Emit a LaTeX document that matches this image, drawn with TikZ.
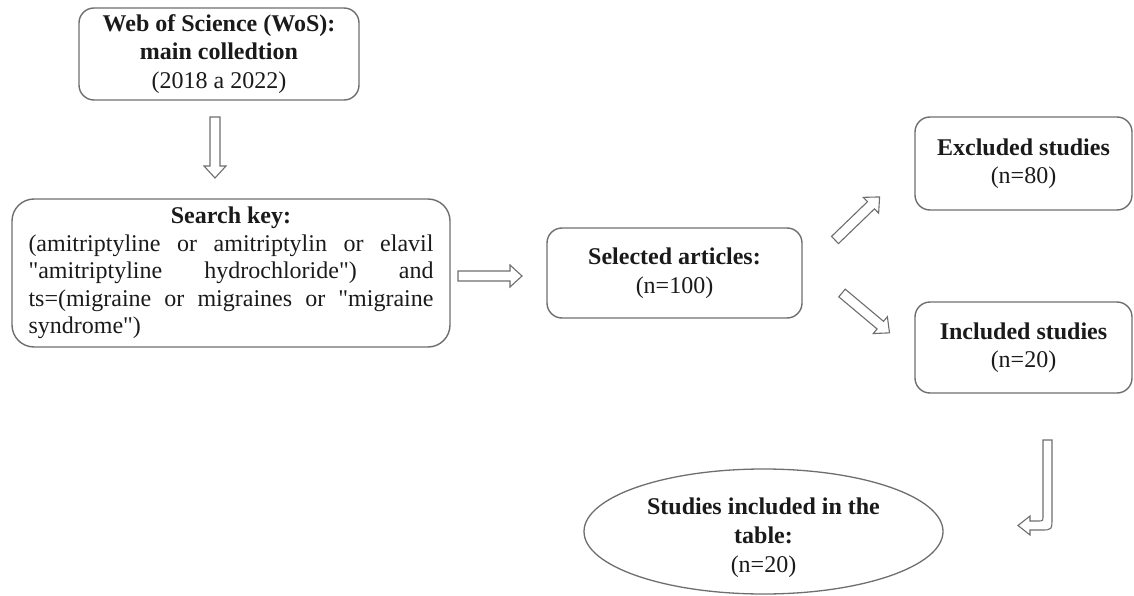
\documentclass[tikz,border=0pt]{standalone}
\usepackage{fontspec}
\setmainfont{Liberation Serif}[Ligatures=TeXOff]
\usetikzlibrary{shapes.geometric}
\definecolor{edge}{HTML}{6E6E6E}
\definecolor{ink}{HTML}{1A1A1A}
\tikzset{
  box/.style={draw=edge, line width=1.4pt, rounded corners=15pt, inner sep=0pt,
    align=center, text=ink, font=\fontsize{24}{28.5}\selectfont},
  oval/.style={draw=edge, line width=1.3pt, ellipse, inner sep=0pt,
    align=center, text=ink, font=\fontsize{24}{29}\selectfont},
  arrowline/.style={draw=edge, line width=1.1pt, line join=miter, fill=white},
  pics/barrow/.style={code={
    \draw[arrowline] (0,-5) -- ({#1-12},-5) -- ({#1-12},-11) -- (#1,0)
      -- ({#1-12},11) -- ({#1-12},5) -- (0,5) -- cycle;}}
}
\begin{document}
\begin{tikzpicture}[x=1pt,y=-1pt]
\useasboundingbox (0,0) rectangle (1134,596);

\node[box, minimum width=280, minimum height=92] (wos) at (219,54)
  {\textbf{Web of Science (WoS):}\\ \textbf{main colledtion}\\ (2018 a 2022)};

\node[box, rounded corners=22pt, minimum width=438, minimum height=148,
      font=\fontsize{24}{27.5}\selectfont] (search) at (231,273)
  {\textbf{Search key:}\\
   \makebox[405pt][s]{(amitriptyline or amitriptylin or elavil}\\
   \makebox[405pt][s]{"amitriptyline hydrochloride") and}\\
   \makebox[405pt][s]{ts=(migraine or migraines or "migraine}\\
   \makebox[405pt][l]{syndrome")}};

\node[box, minimum width=255, minimum height=90] (sel) at (674.5,273)
  {\textbf{Selected articles:}\\ (n=100)};

\node[box, minimum width=217, minimum height=93] (exc) at (1023.5,163.5)
  {\textbf{Excluded studies}\\ (n=80)};

\node[box, minimum width=217, minimum height=91] (inc) at (1023.5,347.5)
  {\textbf{Included studies}\\ (n=20)};

\node[oval, minimum width=359, minimum height=125] (tab) at (763.5,531.5)
  {\raisebox{-6pt}[\height][\depth]{\begin{tabular}{@{}c@{}}
   \textbf{Studies included in the}\\ \textbf{table:}\\ (n=20)\end{tabular}}};

% block arrows
\coordinate (a1) at (215,117);
\coordinate (a2) at (458,276);
\coordinate (a3) at (835,240);
\coordinate (a4) at (842,293);
\pic[rotate=-90] at (a1) {barrow=61};
\pic at (a2) {barrow=64};
\pic[rotate=44] at (a3) {barrow=62};
\pic[rotate=-40] at (a4) {barrow=62};

% hook arrow
\coordinate (h0) at (1043,440);
\draw[arrowline] (h0) -- (1052,440) -- (1052,517)
  .. controls (1052,530) .. (1041,530) -- (1030,530) -- (1030,535)
  -- (1018,525.5) -- (1030,516) -- (1030,521) -- (1038,521)
  .. controls (1043,521) .. (1043,515) -- cycle;
\end{tikzpicture}
\end{document}
